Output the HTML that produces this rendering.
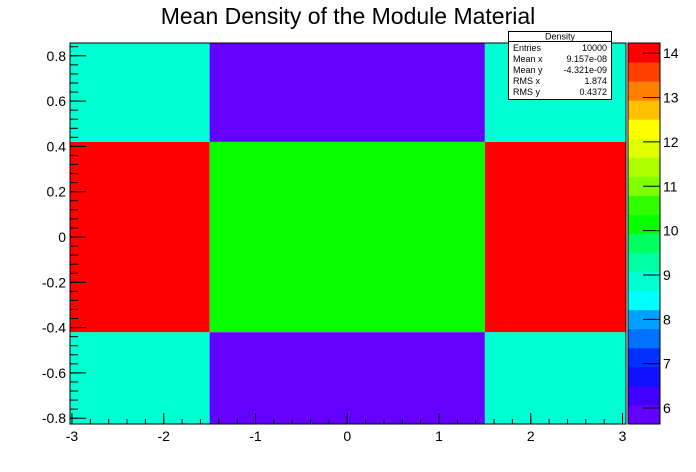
<!DOCTYPE html>
<html><head><meta charset="utf-8"><style>
body{margin:0;background:#fff;}
svg{display:block;font-family:"Liberation Sans",sans-serif;}
</style></head><body>
<svg id="c" width="696" height="472">
<text x="348" y="24" text-anchor="middle" font-size="23">Mean Density of the Module Material</text>
<g id="cells"></g><g id="pal"></g><g id="axes"></g>
<g>
<rect x="508.5" y="31.5" width="103" height="68" fill="#fff" stroke="#000"/>
<line x1="508.5" y1="41.5" x2="611.5" y2="41.5" stroke="#000"/>
<g font-size="9">
<text x="560" y="39.5" text-anchor="middle">Density</text>
<text x="513" y="51">Entries</text><text x="607" y="51" text-anchor="end">10000</text>
<text x="513" y="62">Mean x</text><text x="607" y="62" text-anchor="end">9.157e-08</text>
<text x="513" y="73">Mean y</text><text x="607" y="73" text-anchor="end">-4.321e-09</text>
<text x="513" y="84">RMS x</text><text x="607" y="84" text-anchor="end">1.874</text>
<text x="513" y="95">RMS y</text><text x="607" y="95" text-anchor="end">0.4372</text>
</g></g>
</svg>
<script>
const xEdges=[-3.02,-1.5,1.5,3.05];
const yEdges=[-0.826,-0.42,0.42,0.86];
const values=[[9,6,9],[14,10,14],[9,6,9]];
const xTicks=[-3,-2,-1,0,1,2,3];
const yTicks=[-0.8,-0.6,-0.4,-0.2,0,0.2,0.4,0.6,0.8];
const zTicks=[6,7,8,9,10,11,12,13,14];
const zMin=5.64, zMax=14.23;
const palette=["#6400ff","#4000ff","#1010ff","#0030ff","#0070ff","#00a0ff","#00ffff","#00ffd2","#00ffa0","#00ff60","#08ff00","#30ff00","#80ff00","#b0ff00","#e0ff00","#ffff00","#ffc000","#ff8000","#ff4000","#ff0000"];
const L=70,R=626,T=43,B=424;
const sx=v=>72+(v+3)*91.75;
const sy=v=>237-v*226.5;
const sz=v=>B-(v-zMin)/(zMax-zMin)*(B-T);
const ns="http://www.w3.org/2000/svg";
function mk(t,a,p){const e=document.createElementNS(ns,t);for(const k in a)e.setAttribute(k,a[k]);p.appendChild(e);return e;}
const col=v=>palette[Math.max(0,Math.min(palette.length-1,Math.floor((v-zMin)/(zMax-zMin)*palette.length)))];
const cells=document.getElementById('cells');
for(let j=0;j<values.length;j++)for(let i=0;i<values[j].length;i++){
 const x0=Math.max(L,sx(xEdges[i])),x1=Math.min(R,sx(xEdges[i+1]));
 const y0=Math.max(T,sy(yEdges[j+1])),y1=Math.min(B,sy(yEdges[j]));
 const r=mk('rect',{x:x0,y:y0,width:x1-x0,height:y1-y0,fill:col(values[j][i])},cells);
 
 
}
const pal=document.getElementById('pal');
const bh=(B-T)/palette.length;
palette.forEach((c,k)=>{const r=mk('rect',{x:628,y:B-(k+1)*bh,width:32,height:bh+0.5,fill:c},pal);
 
 });
mk('rect',{x:628,y:T,width:32,height:B-T,fill:'none',stroke:'#000','stroke-width':1},pal);
const ax=document.getElementById('axes');
mk('rect',{x:L,y:T,width:R-L,height:B-T,fill:'none',stroke:'#000','stroke-width':1},ax);
xTicks.forEach(v=>{const x=sx(v);mk('line',{x1:x,y1:B,x2:x,y2:B-11,stroke:'#000'},ax);
 const t=mk('text',{x:x,y:B+17,'text-anchor':'middle','font-size':14},ax);t.textContent=v;
 });
for(let v=-3;v<=3.01;v+=0.2){const x=sx(v);if(x>=L&&x<=R)mk('line',{x1:x,y1:B,x2:x,y2:B-5,stroke:'#000'},ax);}
yTicks.forEach(v=>{const y=sy(v);mk('line',{x1:L,y1:y,x2:L+16,y2:y,stroke:'#000'},ax);
 const t=mk('text',{x:L-4,y:y+5,'text-anchor':'end','font-size':14},ax);t.textContent=v;
 });
for(let v=-0.8;v<=0.86;v+=0.04){const y=sy(v);if(y>=T&&y<=B)mk('line',{x1:L,y1:y,x2:L+8,y2:y,stroke:'#000'},ax);}
zTicks.forEach(v=>{const y=sz(v);mk('line',{x1:643,y1:y,x2:660,y2:y,stroke:'#000'},ax);
 const t=mk('text',{x:663,y:y+5,'font-size':14},ax);t.textContent=v;
 });
</script>
</body></html>
